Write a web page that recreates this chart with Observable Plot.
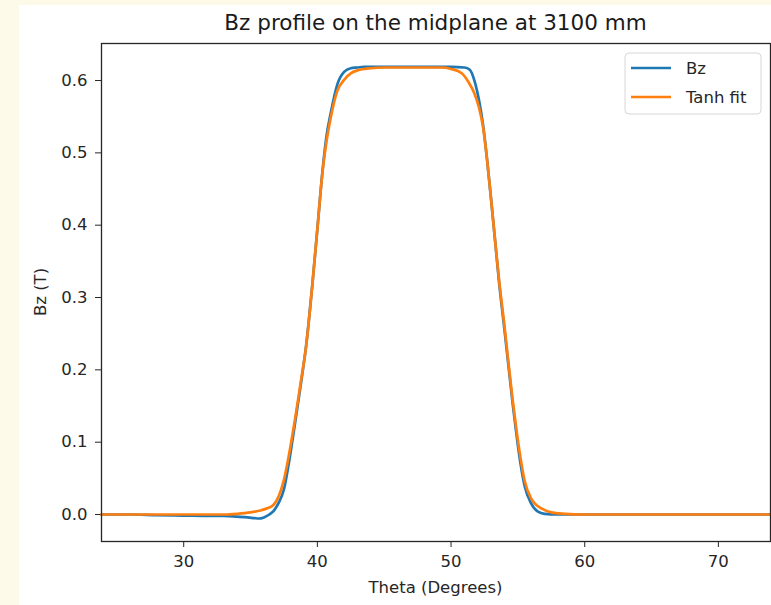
<!DOCTYPE html>
<html>
<head>
<meta charset="utf-8">
<script src="https://cdn.jsdelivr.net/npm/d3@7"></script>
<script src="https://cdn.jsdelivr.net/npm/@observablehq/plot@0.6"></script>
<style>
  html, body { margin: 0; padding: 0; background: #fefaea; }
  body { width: 771px; height: 605px; overflow: hidden; position: relative; }
  #card { position: absolute; left: 19px; top: 5px; width: 752px; height: 600px; background: #ffffff; }
  svg text { font-family: "DejaVu Sans", sans-serif; }
</style>
</head>
<body>
<div id="card"></div>
<script>
// ---- data ----
const titleText = "Bz profile on the midplane at 3100 mm";
const xLabel = "Theta (Degrees)";
const yLabel = "Bz (T)";
const seriesNames = ["Bz", "Tanh fit"];
const seriesColors = ["#1f77b4", "#ff7f0e"];

const thetaBz = [23.85, 26, 28, 30, 32, 33, 34, 34.8, 35.3, 35.6, 36.0, 36.4, 36.75, 37.1, 37.5, 37.9, 38.4, 38.8, 39.15, 39.65, 40.0, 40.4, 40.7, 41.0, 41.5, 42.0, 42.5, 43.0, 43.5, 45, 48, 50, 51, 51.4, 51.75, 52.1, 52.4, 52.7, 53.0, 53.3, 53.6, 54.0, 54.3, 54.6, 54.9, 55.2, 55.5, 56.0, 56.5, 57.0, 58.0, 60, 65, 70, 73.9];
const bzValues = [0.000, 0.000, -0.001, -0.0015, -0.002, -0.002, -0.003, -0.004, -0.005, -0.0055, -0.004, 0.000, 0.0055, 0.016, 0.035, 0.075, 0.135, 0.185, 0.232, 0.323, 0.395, 0.478, 0.525, 0.555, 0.595, 0.612, 0.617, 0.618, 0.619, 0.619, 0.619, 0.619, 0.618, 0.615, 0.600, 0.572, 0.538, 0.490, 0.435, 0.378, 0.320, 0.255, 0.205, 0.155, 0.110, 0.070, 0.040, 0.015, 0.004, 0.001, 0.000, 0.000, 0.000, 0.000, 0.000];

const thetaFit = [23.85, 26, 28, 30, 32, 33, 34, 35.0, 35.8, 36.3, 36.75, 37.1, 37.5, 37.9, 38.4, 38.8, 39.15, 39.65, 40.0, 40.4, 40.7, 41.0, 41.5, 42.0, 42.5, 43.0, 44.0, 45, 48, 49.3, 50.0, 50.8, 51.3, 51.75, 52.1, 52.4, 52.7, 53.0, 53.3, 53.6, 54.0, 54.3, 54.6, 54.9, 55.2, 55.5, 56.0, 56.8, 57.5, 58.5, 60, 65, 70, 73.9];
const fitValues = [0.000, 0.000, 0.000, 0.000, 0.000, 0.000, 0.001, 0.003, 0.006, 0.009, 0.014, 0.025, 0.048, 0.085, 0.140, 0.188, 0.231, 0.323, 0.395, 0.476, 0.518, 0.549, 0.586, 0.601, 0.610, 0.614, 0.617, 0.618, 0.618, 0.618, 0.616, 0.610, 0.598, 0.582, 0.562, 0.535, 0.490, 0.435, 0.378, 0.323, 0.260, 0.209, 0.160, 0.116, 0.078, 0.047, 0.022, 0.008, 0.003, 0.001, 0.000, 0.000, 0.000, 0.000];

const xTicks = [30, 40, 50, 60, 70];
const yTicks = [0.0, 0.1, 0.2, 0.3, 0.4, 0.5, 0.6];
const xDomain = [23.85, 73.9];
const yDomain = [-0.0373, 0.6512];

// ---- build tables ----
const bzRows = thetaBz.map((t, i) => ({theta: t, value: bzValues[i], series: seriesNames[0]}));
const fitRows = thetaFit.map((t, i) => ({theta: t, value: fitValues[i], series: seriesNames[1]}));

const W = 752, H = 598;
const mL = 82, mT = 38, mR = 1, mB = 62;

const chart = Plot.plot({
  width: W,
  height: H,
  marginLeft: mL,
  marginTop: mT,
  marginRight: mR,
  marginBottom: mB,
  x: {domain: xDomain},
  y: {domain: yDomain},
  style: {fontFamily: "DejaVu Sans, sans-serif", fontSize: "16.5px", color: "#262626", background: "white", overflow: "visible"},
  marks: [
    Plot.axisX({ticks: xTicks, tickSize: 6, tickPadding: 8, label: null, tickFormat: d => String(d), stroke: "#262626"}),
    Plot.axisY({ticks: yTicks, tickSize: 6, tickPadding: 8, label: null, tickFormat: d => d.toFixed(1), stroke: "#262626"}),
    Plot.line(bzRows, {x: "theta", y: "value", stroke: seriesColors[0], strokeWidth: 2.7, curve: "monotone-x"}),
    Plot.line(fitRows, {x: "theta", y: "value", stroke: seriesColors[1], strokeWidth: 2.7, curve: "monotone-x"}),
    Plot.frame({stroke: "#262626", strokeWidth: 1.3})
  ]
});

document.getElementById("card").appendChild(chart);

const svg = d3.select(chart);
const cx = mL + (W - mL - mR) / 2;
const cy = mT + (H - mT - mB) / 2;

svg.append("text")
  .attr("x", cx).attr("y", 25)
  .attr("text-anchor", "middle")
  .attr("font-size", "21.5px")
  .attr("fill", "#1a1a1a")
  .text(titleText);

svg.append("text")
  .attr("x", cx).attr("y", 588)
  .attr("text-anchor", "middle")
  .attr("font-size", "16.5px")
  .attr("fill", "#262626")
  .text(xLabel);

svg.append("text")
  .attr("transform", `translate(27,${cy}) rotate(-90)`)
  .attr("text-anchor", "middle")
  .attr("font-size", "16.5px")
  .attr("fill", "#262626")
  .text(yLabel);

// legend
const lg = svg.append("g");
lg.append("rect")
  .attr("x", 606).attr("y", 48).attr("width", 136).attr("height", 61)
  .attr("rx", 4).attr("ry", 4)
  .attr("fill", "white").attr("fill-opacity", 0.85)
  .attr("stroke", "#d6d6d6").attr("stroke-width", 1);
seriesNames.forEach((name, i) => {
  const yy = 63 + i * 29;
  lg.append("line")
    .attr("x1", 612).attr("x2", 652).attr("y1", yy).attr("y2", yy)
    .attr("stroke", seriesColors[i]).attr("stroke-width", 2.7);
  lg.append("text")
    .attr("x", 667).attr("y", yy + 6)
    .attr("text-anchor", "start")
    .attr("font-size", "16.5px")
    .attr("fill", "#262626")
    .text(name);
});
</script>
</body>
</html>
